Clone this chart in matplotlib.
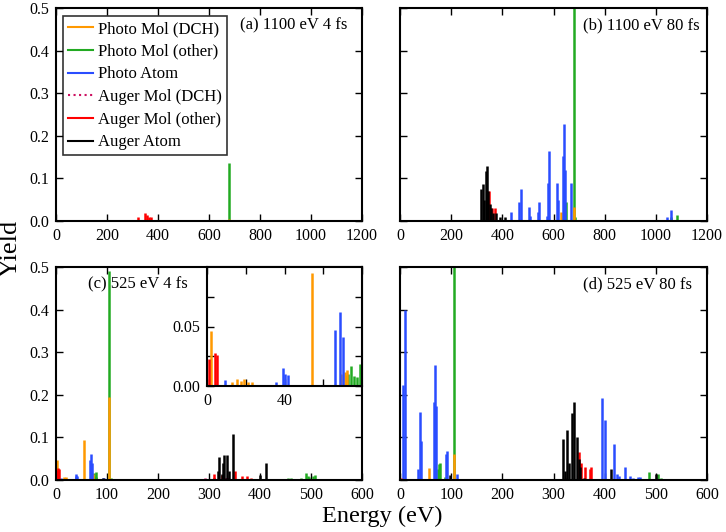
import matplotlib
matplotlib.use("Agg")
import matplotlib.pyplot as plt
from matplotlib.lines import Line2D
from matplotlib.ticker import MultipleLocator

plt.rcParams['font.family'] = ['Liberation Serif', 'DejaVu Serif']
plt.rcParams['mathtext.fontset'] = 'stix'

C_PMD = '#ff9900'
C_PMO = '#22aa22'
C_PA = '#2a4dff'
C_AMD = '#cc1060'
C_AMO = '#ff0000'
C_AA = '#000000'

series_names = ["Photo Mol (DCH)", "Photo Mol (other)", "Photo Atom",
                "Auger Mol (DCH)", "Auger Mol (other)", "Auger Atom"]

# ---------- panel (a) 1100 eV 4 fs ----------
a_pmd_E = [629, 680]
a_pmd_Y = [0.002, 0.004]
a_pmo_E = [680, 1045, 1060]
a_pmo_Y = [0.136, 0.003, 0.003]
a_pa_E, a_pa_Y = [], []
a_amd_E, a_amd_Y = [], []
a_amo_E = [320, 349, 356, 363, 373]
a_amo_Y = [0.010, 0.019, 0.013, 0.009, 0.009]
a_aa_E, a_aa_Y = [], []

# ---------- panel (b) 1100 eV 80 fs ----------
b_pmd_E = [629, 680]
b_pmd_Y = [0.020, 0.033]
b_pmo_E = [650, 680, 684, 1061, 1081]
b_pmo_Y = [0.045, 0.600, 0.010, 0.010, 0.013]
b_pa_E = [432, 467, 472, 506, 509, 540, 543, 573, 580, 583, 613, 616,
          638, 642, 645, 667, 972, 1003, 1043, 1059]
b_pa_Y = [0.021, 0.045, 0.075, 0.034, 0.012, 0.020, 0.044, 0.012, 0.090,
          0.164, 0.090, 0.050, 0.153, 0.228, 0.120, 0.090, 0.003, 0.002,
          0.010, 0.026]
b_amd_E = [305]
b_amd_Y = [0.002]
b_amo_E = [5, 311, 348, 358, 370]
b_amo_Y = [0.003, 0.002, 0.070, 0.030, 0.030]
b_aa_E = [316, 325, 330, 335, 339, 345, 350, 355, 364, 374, 391, 410]
b_aa_Y = [0.074, 0.088, 0.050, 0.118, 0.130, 0.070, 0.040, 0.030, 0.018,
          0.018, 0.010, 0.010]

# ---------- panel (c) 525 eV 4 fs ----------
c_pmd_E = [2.2, 13, 15.5, 17.5, 19, 21, 23, 54, 69, 71, 72.5, 104]
c_pmd_Y = [0.046, 0.003, 0.006, 0.004, 0.006, 0.003, 0.003, 0.095, 0.010,
           0.012, 0.0135, 0.194]
c_pmo_E = [71.5, 73, 74.5, 76, 77.5, 79, 104, 108, 455, 460, 470, 480,
           491, 494, 497, 503, 508]
c_pmo_Y = [0.009, 0.010, 0.017, 0.008, 0.0075, 0.0185, 0.490, 0.005,
           0.004, 0.004, 0.003, 0.005, 0.017, 0.010, 0.008, 0.010, 0.012]
c_pa_E = [9.3, 35.5, 39, 40, 41.8, 66.3, 68.6, 70.4, 93, 95, 305, 320,
          455, 462]
c_pa_Y = [0.005, 0.003, 0.015, 0.010, 0.009, 0.047, 0.062, 0.041, 0.005,
          0.004, 0.003, 0.003, 0.003, 0.002]
c_amd_E = [292, 310, 333, 338]
c_amd_Y = [0.004, 0.012, 0.014, 0.010]
c_amo_E = [1, 4.3, 5, 310, 325, 350, 365, 375, 383]
c_amo_Y = [0.023, 0.028, 0.026, 0.015, 0.012, 0.022, 0.010, 0.010, 0.004]
c_aa_E = [93, 317, 320, 325, 327, 329, 334.5, 340, 348, 400, 412]
c_aa_Y = [0.005, 0.020, 0.054, 0.015, 0.040, 0.059, 0.059, 0.020, 0.109,
          0.011, 0.041]

# ---------- panel (d) 525 eV 80 fs ----------
d_pmd_E = [3, 20, 57, 105]
d_pmd_Y = [0.003, 0.003, 0.028, 0.061]
d_pmo_E = [75, 77, 79, 88, 105, 487, 505, 510]
d_pmo_Y = [0.025, 0.037, 0.040, 0.007, 0.600, 0.019, 0.015, 0.004]
d_pa_E = [5, 9, 22, 35, 39, 41, 66, 68, 70, 89.5, 91.5, 112, 394.5, 400,
          418, 424, 428, 440, 450, 455, 465, 470]
d_pa_Y = [0.223, 0.400, 0.003, 0.026, 0.160, 0.092, 0.182, 0.270, 0.173,
          0.060, 0.068, 0.015, 0.192, 0.141, 0.084, 0.015, 0.010, 0.030,
          0.010, 0.004, 0.006, 0.006]
d_amd_E = [290, 325]
d_amd_Y = [0.003, 0.004]
d_amo_E = [2, 350, 353, 362, 371, 373]
d_amo_Y = [0.005, 0.066, 0.040, 0.030, 0.025, 0.030]
d_aa_E = [97, 318, 322, 327, 331, 336, 340, 346, 349, 352, 360, 413, 500]
d_aa_Y = [0.011, 0.096, 0.020, 0.117, 0.040, 0.158, 0.182, 0.100, 0.050,
          0.030, 0.005, 0.026, 0.013]

panel_titles = ["(a) 1100 eV 4 fs", "(b) 1100 eV 80 fs",
                "(c) 525 eV 4 fs", "(d) 525 eV 80 fs"]

panels = [
    [(a_pmo_E, a_pmo_Y), (a_pmd_E, a_pmd_Y), (a_pa_E, a_pa_Y),
     (a_amd_E, a_amd_Y), (a_amo_E, a_amo_Y), (a_aa_E, a_aa_Y)],
    [(b_pmo_E, b_pmo_Y), (b_pmd_E, b_pmd_Y), (b_pa_E, b_pa_Y),
     (b_amd_E, b_amd_Y), (b_amo_E, b_amo_Y), (b_aa_E, b_aa_Y)],
    [(c_pmo_E, c_pmo_Y), (c_pmd_E, c_pmd_Y), (c_pa_E, c_pa_Y),
     (c_amd_E, c_amd_Y), (c_amo_E, c_amo_Y), (c_aa_E, c_aa_Y)],
    [(d_pmo_E, d_pmo_Y), (d_pmd_E, d_pmd_Y), (d_pa_E, d_pa_Y),
     (d_amd_E, d_amd_Y), (d_amo_E, d_amo_Y), (d_aa_E, d_aa_Y)],
]
draw_colors = [C_PMO, C_PMD, C_PA, C_AMD, C_AMO, C_AA]
draw_styles = ['-', '-', '-', ':', '-', '-']

fig = plt.figure(figsize=(7.26, 5.32), dpi=100)

W, H = 726.0, 532.0
boxes = [(56, 8, 362, 221), (400, 8, 707, 221),
         (56, 267, 362, 480), (400, 267, 707, 480)]
xlims = [1200, 1200, 600, 600]
xsteps = [200, 200, 100, 100]
# title anchor (right edge x, top y) in pixels
title_pos = [(347, 17), (700, 17), (188, 276), (692, 276)]

TICK_FS = 11.5


def style_axes(ax, fs=TICK_FS):
    ax.tick_params(direction='in', top=True, right=True, length=5,
                   width=1.0, labelsize=fs, pad=5, which='both')
    for s in ax.spines.values():
        s.set_linewidth(1.5)


def draw_bars(ax, data, lw):
    for (E, Y), col, ls in zip(data, draw_colors, draw_styles):
        if len(E):
            ax.vlines(E, 0, Y, colors=col, linewidth=lw, linestyles=ls)


axes = []
for i, (l, t, r, b) in enumerate(boxes):
    ax = fig.add_axes([l / W, 1 - b / H, (r - l) / W, (b - t) / H])
    draw_bars(ax, panels[i], 1.8)
    ax.set_xlim(0, xlims[i])
    ax.set_ylim(0, 0.5)
    ax.xaxis.set_major_locator(MultipleLocator(xsteps[i]))
    ax.yaxis.set_major_locator(MultipleLocator(0.1))
    style_axes(ax)
    if i in (1, 3):
        ax.set_yticklabels([])
    tx, ty = title_pos[i]
    fig.text(tx / W, 1 - ty / H, panel_titles[i], ha='right', va='top',
             fontsize=12, zorder=10)
    axes.append(ax)

# legend in panel (a)
handles = [Line2D([], [], color=c, lw=1.5, ls=s) for c, s in
           zip([C_PMD, C_PMO, C_PA, C_AMD, C_AMO, C_AA],
               ['-', '-', '-', ':', '-', '-'])]
leg = axes[0].legend(handles, series_names, loc='upper left', fontsize=12,
                     frameon=True, fancybox=False, edgecolor='black',
                     bbox_to_anchor=(7 / 306, 1 - 8 / 213),
                     borderaxespad=0.0, handlelength=1.5, labelspacing=0.4,
                     borderpad=0.3, handletextpad=0.3)
leg.get_frame().set_linewidth(1.2)

# inset in panel (c)
il, it, ir, ib = 207, 267, 362, 386
axi = fig.add_axes([il / W, 1 - ib / H, (ir - il) / W, (ib - it) / H])
draw_bars(axi, panels[2], 1.8)
axi.set_xlim(0, 80)
axi.set_ylim(0, 0.1)
axi.set_xticks([0, 40])
axi.set_xticks([20, 60], minor=True)
axi.set_yticks([0, 0.05])
axi.set_yticks([0.025, 0.075], minor=True)
axi.set_yticklabels(['0.00', '0.05'])
style_axes(axi)
axi.set_facecolor('white')

fig.text(0.015, 1 - 248 / H, 'Yield', rotation=90, va='center', ha='center',
         fontsize=19)
fig.text(382 / W, 1 - 522 / H, 'Energy (eV)', va='baseline', ha='center',
         fontsize=17.5)

fig.savefig('out.png', dpi=100)
